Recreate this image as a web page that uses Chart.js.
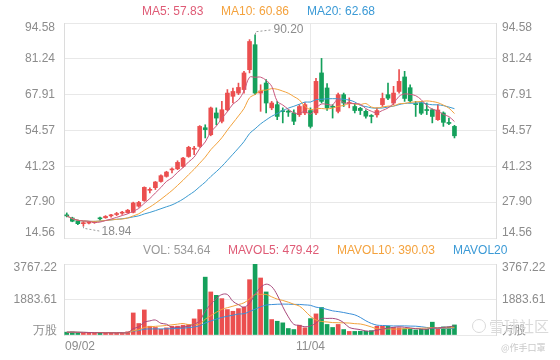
<!DOCTYPE html>
<html><head><meta charset="utf-8">
<script src="https://cdn.jsdelivr.net/npm/chart.js@4.4.0/dist/chart.umd.min.js"></script>
<style>
html,body{margin:0;padding:0;background:#fff;width:560px;height:360px;overflow:hidden;font-family:"Liberation Sans",Arial,sans-serif;}
#wrap{position:relative;width:560px;height:360px;}
#c1{position:absolute;left:0;top:0;}
#c2{position:absolute;left:0;top:240px;}
.lg{position:absolute;font-size:12px;white-space:nowrap;line-height:14px;}
.wm{position:absolute;white-space:nowrap;font-family:"Noto Sans CJK SC",sans-serif;}
</style></head><body>
<div id="wrap">
<canvas id="c1" width="560" height="245"></canvas>
<canvas id="c2" width="560" height="120"></canvas>
</div>
<script>
const dates = ['09/02','09/06','09/07','09/08','09/09','09/12','09/13','09/14','09/15','09/16',
 '09/19','09/20','09/21','09/22','09/23','09/26','09/27','09/28','09/29','09/30',
 '10/03','10/04','10/05','10/06','10/07','10/10','10/11','10/12','10/13','10/14',
 '10/17','10/18','10/19','10/20','10/21','10/24','10/25','10/26','10/27','10/28','10/31',
 '11/01','11/02','11/03','11/04','11/07','11/08','11/09','11/10','11/11',
 '11/14','11/15','11/16','11/17','11/18','11/21','11/22','11/23','11/25',
 '11/28','11/29','11/30','12/01','12/02','12/05','12/06','12/07','12/08','12/09','12/12','12/13'];
const opens = [22.9,22.0,21.0,19.9,20.1,20.3,21.9,22.1,22.8,23.3,
 23.8,24.0,24.1,26.4,28.5,32.3,33.3,35.6,37.5,39.9,
 40.3,41.2,44.9,47.6,48.65,55.6,53.0,61.1,58.0,62.3,
 67.3,68.5,69.8,77.2,86.5,68.5,72.25,63.0,64.2,61.9,61.8,
 61.1,60.45,61.1,62.0,61.1,76.0,70.4,63.5,61.7,
 67.9,64.6,63.5,62.8,61.7,60.0,60.4,64.2,67.9,
 64.8,69.1,74.5,70.5,64.5,64.8,62.3,62.3,58.6,61.1,57.5,56.1];
const highs = [23.9,22.3,21.2,20.75,20.6,20.8,22.3,22.9,23.4,24.1,
 24.5,25.2,27.9,28.2,33.6,33.2,35.6,38.1,39.4,40.7,
 43.3,44.6,48.7,48.65,56.4,56.7,63.3,63.0,65.4,69.8,
 70.4,72.2,76.6,88.4,90.20,71.6,73.5,65.4,65.4,63.0,62.3,
 62.3,64.2,65.0,63.0,74.0,81.4,72.0,64.2,68.5,
 68.5,66.7,64.5,63.2,62.3,60.5,63.0,68.5,72.25,
 71.0,77.2,76.6,71.6,65.4,65.4,64.8,62.6,64.2,61.5,59.2,56.5];
const lows = [22.4,20.6,19.5,18.94,19.8,20.0,21.2,21.9,22.3,22.9,
 23.3,23.8,23.9,26.0,28.2,31.3,32.6,35.3,37.2,38.8,
 40.0,40.8,44.6,45.6,48.3,51.8,52.6,56.7,57.4,61.8,
 64.8,67.9,68.5,76.0,67.9,61.7,61.1,62.3,58.6,57.4,59.8,
 56.7,59.8,60.5,55.5,60.5,64.8,62.0,59.2,61.1,
 63.5,63.0,61.1,60.5,59.2,57.4,59.5,63.5,66.0,
 64.2,68.5,65.4,64.8,59.8,60.5,60.5,57.4,58.3,56.1,56.7,51.8];
const closes = [22.8,20.8,19.9,20.1,20.3,20.5,21.7,22.6,22.9,23.5,
 23.9,24.9,27.6,27.8,33.4,32.5,35.4,37.75,39.1,40.1,
 42.7,44.3,48.3,47.9,56.1,54.9,62.95,59.2,62.3,68.5,
 69.1,70.6,76.0,87.7,68.5,69.3,64.8,64.8,59.8,61.6,61.4,
 58.0,63.5,64.2,56.1,72.85,65.4,63.0,63.2,67.9,
 64.8,65.0,62.0,62.0,59.9,59.8,62.0,66.5,66.6,
 68.5,72.85,66.5,65.6,64.2,61.0,62.0,59.8,62.2,57.6,57.2,52.6];
const volumes = [150,160,130,120,100,110,140,120,110,110,
 120,170,1170,610,1330,465,400,300,380,465,
 470,520,555,855,1350,3070,2285,2105,1930,1350,
 1260,1400,1470,2935,3767.22,3025,2285,820,730,645,345,
 290,520,380,870,1120,1460,560,400,560,
 290,190,190,200,200,230,465,465,465,
 400,380,330,300,270,300,310,680,323,430,430,534.64];
const priceTicks = [14.56, 27.90, 41.23, 54.57, 67.91, 81.24, 94.58];
const priceTickLabels = ['14.56','27.90','41.23','54.57','67.91','81.24','94.58'];
const volTicks = [0, 1883.61, 3767.22];
const volTickLabels = ['万股','1883.61','3767.22'];
const xTickLabels = ['09/02','11/04'];
const maLegend = ['MA5: 57.83','MA10: 60.86','MA20: 62.68'];
const volLegend = ['VOL: 534.64','MAVOL5: 479.42','MAVOL10: 390.03','MAVOL20'];
const watermark = ['雪球社区','@作手口罩'];

// ---- presentation ----
const RED = '#eb4f4f', GREEN = '#14a05b';
const GRID = '#e8e8e8', BORDER = '#dcdcdc', TXT = '#8c8c8c';
const FONT = '12px "Liberation Sans", Arial, sans-serif';
const EMPTY_SLOTS = 7;
const slotLabels = dates.concat(new Array(EMPTY_SLOTS).fill(''));
const up = closes.map((c,i)=> c >= opens[i]);
const candleColors = up.map(u => u ? RED : GREEN);

function movingAvg(arr, n){
  return arr.map((_, i) => {
    const s = Math.max(0, i - n + 1);
    let sum = 0; for (let k = s; k <= i; k++) sum += arr[k];
    return sum / (i - s + 1);
  });
}

const wrap = document.getElementById('wrap');
function addText(txt, left, top, color, cls, extra){
  const d = document.createElement('div');
  d.className = cls; d.textContent = txt;
  d.style.left = left + 'px'; d.style.top = top + 'px'; d.style.color = color;
  if (extra) Object.assign(d.style, extra);
  wrap.appendChild(d);
}
const maColors = ['#df5b76','#f4a23d','#3b9ad6'];
const maLegendX = [142, 221, 307];
maLegend.forEach((t,i)=> addText(t, maLegendX[i], 4, maColors[i], 'lg'));
const volLegendColors = ['#999999','#df5b76','#f4a23d','#3b9ad6'];
const volLegendX = [143, 228, 337, 453];
volLegend.forEach((t,i)=> addText(t, volLegendX[i], 243, volLegendColors[i], 'lg'));
addText(watermark[0], 489, 317, '#dadada', 'wm', {fontSize:'15px', lineHeight:'18px'});
addText(watermark[1], 501, 342, '#c9c9c9', 'wm', {fontSize:'9px', lineHeight:'12px'});
const icon = document.createElement('div');
Object.assign(icon.style, {position:'absolute', left:'472px', top:'319px', width:'12px', height:'12px', border:'1.5px solid #dadada', borderRadius:'50%'});
wrap.appendChild(icon);

const xGrid = (c) => (slotLabels[c.index] === xTickLabels[1] ? GRID : 'rgba(0,0,0,0)');
const zeroW = ax => { ax.width = 0; };
const zeroH = ax => { ax.height = 0; };

const priceText = {
  id: 'priceText',
  afterDraw(chart){
    const {ctx, scales:{x, y}} = chart;
    ctx.save();
    ctx.font = FONT; ctx.fillStyle = TXT; ctx.textBaseline = 'middle';
    priceTicks.forEach((v,k)=>{
      let py = y.getPixelForValue(v);
      if (k === priceTicks.length - 1) py += 5;
      if (k === 0) py -= 5;
      ctx.textAlign = 'right'; ctx.fillText(priceTickLabels[k], 55, py);
      ctx.textAlign = 'left'; ctx.fillText(priceTickLabels[k], 502, py);
    });
    // max / min annotations
    const hi = Math.max(...highs), hiIdx = highs.indexOf(hi);
    const lo = Math.min(...lows), loIdx = lows.indexOf(lo);
    ctx.strokeStyle = '#9a9a9a'; ctx.lineWidth = 1; ctx.setLineDash([2,2]);
    let hx = Math.round(x.getPixelForValue(hiIdx)) + 0.5, hy = y.getPixelForValue(hi);
    ctx.beginPath(); ctx.moveTo(hx, hy); ctx.lineTo(hx, hy-3); ctx.lineTo(hx+17, hy-5); ctx.stroke();
    let lx = Math.round(x.getPixelForValue(loIdx)) + 0.5, ly = y.getPixelForValue(lo);
    ctx.beginPath(); ctx.moveTo(lx, ly); ctx.lineTo(lx, ly+2); ctx.lineTo(lx+17, ly+5); ctx.stroke();
    ctx.setLineDash([]);
    ctx.textAlign = 'left';
    ctx.fillText(hi.toFixed(2), hx+18, hy-5);
    ctx.fillText(lo.toFixed(2), lx+18, ly+5);
    ctx.restore();
  }
};

new Chart(document.getElementById('c1'), {
  type: 'bar',
  data: {
    labels: slotLabels,
    datasets: [
      {type:'line', data: movingAvg(closes,5), borderColor:'#c9577d', borderWidth:1, pointRadius:0, tension:0.35, order:0},
      {type:'line', data: movingAvg(closes,10), borderColor:'#f2a23c', borderWidth:1, pointRadius:0, tension:0.35, order:0},
      {type:'line', data: movingAvg(closes,20), borderColor:'#3b9ad0', borderWidth:1, pointRadius:0, tension:0.35, order:0},
      {data: opens.map((o,i)=>[o, closes[i]]), backgroundColor: candleColors, barThickness:4, grouped:false, minBarLength:1, order:1},
      {data: lows.map((l,i)=>[l, highs[i]]), backgroundColor: candleColors, barThickness:1, grouped:false, order:2}
    ]
  },
  options: {
    responsive:false, animation:false, events:[],
    layout:{padding:{left:64, right:64, top:23, bottom:7}},
    plugins:{legend:{display:false}, tooltip:{enabled:false}},
    scales:{
      x:{offset:true, ticks:{display:false, autoSkip:false}, grid:{offset:false, drawTicks:false, color:xGrid}, border:{display:false}, afterFit:zeroH},
      y:{position:'left', min:priceTicks[0], max:priceTicks[priceTicks.length-1], ticks:{display:false},
         grid:{color:GRID, drawTicks:false}, border:{display:true, color:BORDER}, afterFit:zeroW,
         afterBuildTicks: ax => { ax.ticks = priceTicks.map(v=>({value:v})); }},
      y2:{position:'right', min:priceTicks[0], max:priceTicks[priceTicks.length-1], ticks:{display:false},
         grid:{display:false, drawTicks:false}, border:{display:true, color:BORDER}, afterFit:zeroW}
    }
  },
  plugins:[priceText]
});

const volText = {
  id:'volText',
  afterDraw(chart){
    const {ctx, scales:{x, y}} = chart;
    ctx.save();
    ctx.font = FONT; ctx.fillStyle = TXT; ctx.textBaseline = 'middle';
    volTicks.forEach((v,k)=>{
      let py = y.getPixelForValue(v);
      if (k === volTicks.length - 1) py += 4;
      if (k === 0) py -= 4;
      ctx.textAlign = 'right'; ctx.fillText(volTickLabels[k], 57, py);
      ctx.textAlign = 'left'; ctx.fillText(volTickLabels[k], 502, py);
    });
    const ly = 107;
    ctx.textAlign = 'left';
    ctx.fillText(xTickLabels[0], chart.chartArea.left + 1, ly);
    ctx.textAlign = 'center';
    ctx.fillText(xTickLabels[1], x.getPixelForValue(dates.indexOf(xTickLabels[1])), ly);
    ctx.restore();
  }
};

new Chart(document.getElementById('c2'), {
  type: 'bar',
  data: {
    labels: slotLabels,
    datasets: [
      {type:'line', data: movingAvg(volumes,5), borderColor:'#a8497c', borderWidth:1, pointRadius:0, tension:0.35, order:0},
      {type:'line', data: movingAvg(volumes,10), borderColor:'#f2a23c', borderWidth:1, pointRadius:0, tension:0.35, order:0},
      {type:'line', data: movingAvg(volumes,20), borderColor:'#3b8fd8', borderWidth:1, pointRadius:0, tension:0.35, order:0},
      {data: volumes, backgroundColor: candleColors, barThickness:4, grouped:false, order:1}
    ]
  },
  options: {
    responsive:false, animation:false, events:[],
    layout:{padding:{left:64, right:64, top:24, bottom:25}},
    plugins:{legend:{display:false}, tooltip:{enabled:false}},
    scales:{
      x:{offset:true, ticks:{display:false, autoSkip:false}, grid:{offset:false, drawTicks:false, color:xGrid}, border:{display:false}, afterFit:zeroH},
      y:{position:'left', min:volTicks[0], max:volTicks[volTicks.length-1], ticks:{display:false},
         grid:{color:GRID, drawTicks:false}, border:{display:true, color:BORDER}, afterFit:zeroW,
         afterBuildTicks: ax => { ax.ticks = volTicks.map(v=>({value:v})); }},
      y2:{position:'right', min:volTicks[0], max:volTicks[volTicks.length-1], ticks:{display:false},
         grid:{display:false, drawTicks:false}, border:{display:true, color:BORDER}, afterFit:zeroW}
    }
  },
  plugins:[volText]
});
</script>
</body></html>
